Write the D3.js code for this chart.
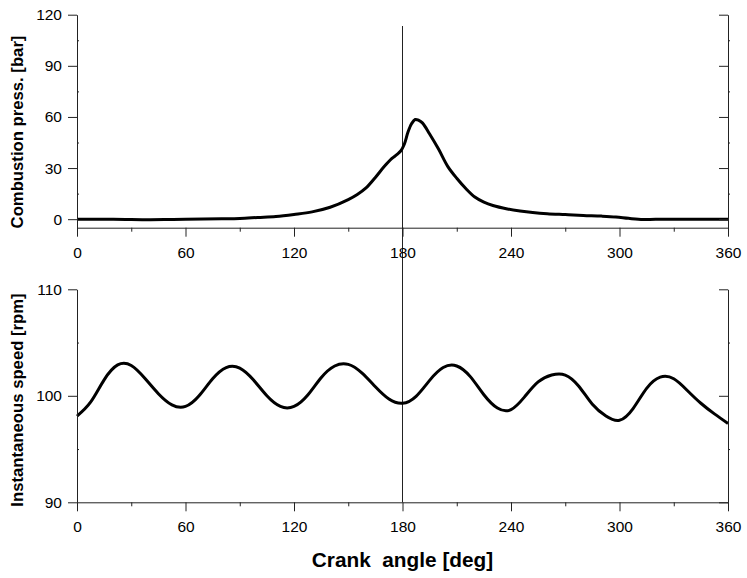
<!DOCTYPE html>
<html>
<head>
<meta charset="utf-8">
<script src="https://cdn.jsdelivr.net/npm/d3@7"></script>
<style>
  body { margin: 0; background: #fff; }
  svg { display: block; font-family: "Liberation Sans", Arial, sans-serif; }
</style>
</head>
<body>
<svg width="747" height="578"></svg>
<script>
// dados
const pressAngle = [0, 20, 40, 50, 60, 80, 90, 100, 110, 120, 130, 140, 150, 155, 160, 165, 170, 174, 177, 179, 181, 183, 185, 187, 189, 191, 195, 200, 205, 210, 215, 220, 225, 230, 238, 245, 252, 260, 270, 280, 290, 298, 305, 313, 320, 340, 360];
const pressValue = [0, 0, -0.3, -0.2, 0, 0.2, 0.4, 1.0, 1.6, 2.8, 4.3, 7, 11.5, 14.5, 18.5, 24.5, 31, 35.5, 38, 40, 44, 51, 56, 58.5, 58, 56.5, 50, 41, 31, 24, 18, 13, 10, 8, 6, 4.8, 3.9, 3.2, 2.7, 2.2, 1.8, 1.3, 0.5, -0.2, 0, 0, 0];

// velocidade instantânea, lida a cada 7.5 graus
const speedAngle = [0, 7.5, 15, 22.5, 30, 37.5, 45, 52.5, 60, 67.5, 75, 82.5, 90, 97.5, 105, 112.5, 120, 127.5, 135, 142.5, 150, 157.5, 165, 172.5, 180, 187.5, 195, 202.5, 210, 217.5, 225, 232.5, 240, 247.5, 255, 262.5, 270, 277.5, 285, 292.5, 300, 307.5, 315, 322.5, 330, 337.5, 345, 352.5, 360];
const speedValue = [98.1, 99.4, 101.5, 102.9, 102.85, 101.65, 100.2, 99.15, 99.0, 100.0, 101.6, 102.65, 102.6, 101.5, 100.0, 99.0, 99.0, 100.05, 101.7, 102.8, 102.95, 102.15, 100.85, 99.7, 99.3, 99.95, 101.45, 102.65, 102.8, 101.8, 100.1, 98.85, 98.7, 99.9, 101.3, 101.95, 101.95, 100.9, 99.2, 98.1, 97.7, 98.8, 100.7, 101.75, 101.6, 100.5, 99.3, 98.3, 97.4];

const xTicks = [0, 60, 120, 180, 240, 300, 360];
const xMinor = [30, 90, 150, 210, 270, 330];
const pressTicks = [0, 30, 60, 90, 120];
const pressMinor = [15, 45, 75, 105];
const speedTicks = [90, 100, 110];
const speedMinor = [95, 105];

const markAngle = 180;

const svg = d3.select("svg");

// escalas
const x = d3.scaleLinear().domain([0, 360]).range([77, 728]);
const yTop = d3.scaleLinear().domain([-5, 120]).range([227.7, 14.7]);
const yBot = d3.scaleLinear().domain([90, 110]).range([502.3, 289.3]);

// linha vertical no PMS
svg.append("line")
  .attr("x1", x(markAngle)).attr("x2", x(markAngle))
  .attr("y1", 26).attr("y2", yBot(90))
  .attr("stroke", "#222").attr("stroke-width", 1);

// curvas
const pressLine = d3.line()
  .x((d, i) => x(pressAngle[i]))
  .y(d => yTop(d))
  .curve(d3.curveCatmullRom.alpha(0.5));

const speedLine = d3.line()
  .x((d, i) => x(speedAngle[i]))
  .y(d => yBot(d))
  .curve(d3.curveNatural);

svg.append("path")
  .attr("d", pressLine(pressValue))
  .attr("fill", "none").attr("stroke", "#000")
  .attr("stroke-width", 3).attr("stroke-linejoin", "round");

svg.append("path")
  .attr("d", speedLine(speedValue))
  .attr("fill", "none").attr("stroke", "#000")
  .attr("stroke-width", 3).attr("stroke-linejoin", "round");

// eixos de um painel
function drawPanel(y, ticks, minor, yBottom) {
  const fmt = d => d;

  // eixo x
  svg.append("g")
    .attr("transform", `translate(0,${yBottom})`)
    .call(d3.axisBottom(x).tickValues(xTicks).tickSize(9).tickSizeOuter(0).tickPadding(10).tickFormat(fmt));
  svg.append("g")
    .attr("transform", `translate(0,${yBottom})`)
    .call(d3.axisBottom(x).tickValues(xMinor).tickSize(4).tickSizeOuter(0).tickFormat(""))
    .select(".domain").remove();

  // eixo y esquerdo
  svg.append("g")
    .attr("transform", `translate(${x(0)},0)`)
    .call(d3.axisLeft(y).tickValues(ticks).tickSize(9).tickSizeOuter(0).tickPadding(6).tickFormat(fmt));
  svg.append("g")
    .attr("transform", `translate(${x(0)},0)`)
    .call(d3.axisLeft(y).tickValues(minor).tickSize(-2).tickSizeOuter(0).tickFormat(""))
    .select(".domain").remove();

  // eixo y direito
  svg.append("g")
    .attr("transform", `translate(${x(360)},0)`)
    .call(d3.axisRight(y).tickValues(ticks).tickSize(-9).tickSizeOuter(0).tickFormat(""));
  svg.append("g")
    .attr("transform", `translate(${x(360)},0)`)
    .call(d3.axisRight(y).tickValues(minor).tickSize(2).tickSizeOuter(0).tickFormat(""))
    .select(".domain").remove();
}

drawPanel(yTop, pressTicks, pressMinor, yTop(-5));
drawPanel(yBot, speedTicks, speedMinor, yBot(90));

svg.selectAll(".tick text")
  .attr("font-size", 15.5)
  .attr("font-family", "'Liberation Sans', Arial, sans-serif")
  .attr("fill", "#000");
svg.selectAll(".domain, .tick line").attr("stroke", "#222");

// títulos
svg.append("text")
  .attr("transform", "translate(23,132) rotate(-90)")
  .attr("text-anchor", "middle")
  .attr("font-size", 16.7).attr("font-weight", "bold")
  .text("Combustion press. [bar]");

svg.append("text")
  .attr("transform", "translate(23,400) rotate(-90)")
  .attr("text-anchor", "middle")
  .attr("font-size", 16.7).attr("font-weight", "bold")
  .text("Instantaneous speed [rpm]");

svg.append("text")
  .attr("x", x(180)).attr("y", 567)
  .attr("text-anchor", "middle")
  .attr("font-size", 20.8).attr("font-weight", "bold")
  .attr("xml:space", "preserve")
  .style("white-space", "pre")
  .text("Crank  angle [deg]");
</script>
</body>
</html>
